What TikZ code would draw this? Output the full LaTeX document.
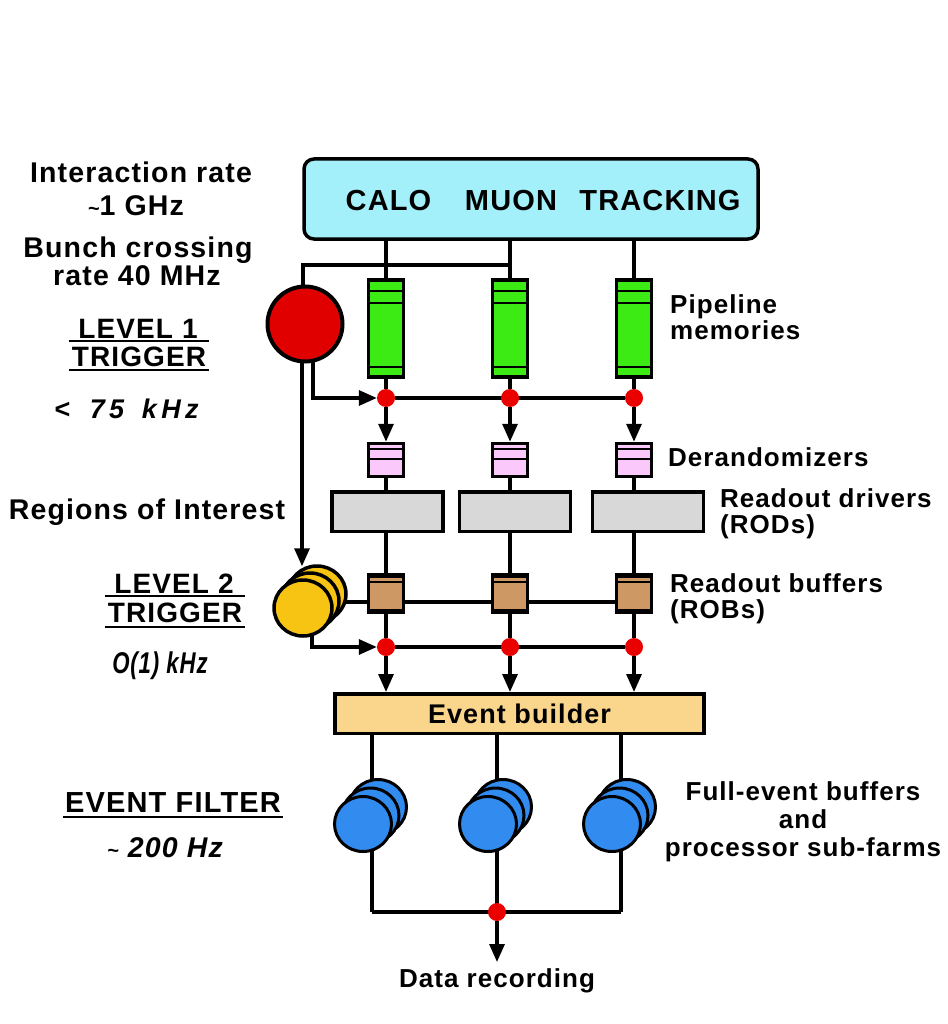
\documentclass[tikz,border=0pt]{standalone}
\usepackage{fontspec}
\setmainfont{Liberation Sans}[LetterSpace=4]
\newfontfamily\widefont{Liberation Sans}[LetterSpace=16]
\usetikzlibrary{arrows.meta,calc,shapes.geometric}
\pgfdeclarelayer{bg}
\pgfdeclarelayer{paper}
\pgfsetlayers{paper,bg,main}
\definecolor{detcyan}{RGB}{164,240,250}
\definecolor{pipegreen}{RGB}{60,235,20}
\definecolor{derpink}{RGB}{250,200,250}
\definecolor{rodgrey}{RGB}{216,216,216}
\definecolor{robtan}{RGB}{205,152,100}
\definecolor{ltyellow}{RGB}{248,196,20}
\definecolor{ebyellow}{RGB}{250,214,140}
\definecolor{farmblue}{RGB}{50,140,240}
\definecolor{dotred}{RGB}{235,0,0}
\definecolor{lonered}{RGB}{225,0,0}
\tikzset{
 ln/.style={line width=3.2pt},
 thin ln/.style={line width=2.2pt},
 arr/.style={line width=3.2pt,-{Triangle[length=18pt,width=15pt]}},
 bx/.style={draw,line width=3.5pt,inner sep=0pt},
 rdot/.style={circle,fill=dotred,minimum size=18pt,inner sep=0pt},
 pipebox/.style={bx,fill=pipegreen,minimum width=35pt,minimum height=97pt},
 derbox/.style={bx,fill=derpink,minimum width=35pt,minimum height=33pt},
 rodbox/.style={bx,fill=rodgrey,minimum width=111pt,minimum height=39.5pt},
 robbox/.style={bx,fill=robtan,minimum width=35pt,minimum height=38pt},
 yell/.style={ellipse,draw,line width=3.5pt,fill=ltyellow,minimum width=58pt,minimum height=56pt,inner sep=0pt},
 farm/.style={ellipse,draw,line width=3pt,fill=farmblue,minimum width=57pt,minimum height=55pt,inner sep=0pt},
 lab/.style={inner sep=0pt,anchor=base west,font=\fontsize{26}{30}\selectfont\bfseries},
 labc/.style={inner sep=0pt,anchor=base,font=\fontsize{26}{30}\selectfont\bfseries},
 info/.style={inner sep=0pt,anchor=base,font=\fontsize{28.5}{33}\selectfont\bfseries},
 ttl/.style={inner sep=0pt,anchor=base,font=\fontsize{28}{33}\selectfont\bfseries},
 uline/.style={line width=2pt},
}
\begin{document}
\begin{tikzpicture}[x=1pt,y=-1pt]
\begin{pgfonlayer}{paper}
\fill[white] (0,0) rectangle (947,1024);
\end{pgfonlayer}
\useasboundingbox (0,0) rectangle (947,1024);

% detector box
\node[bx,fill=detcyan,rounded corners=10pt,minimum width=454pt,minimum height=80pt] (det) at (531,199) {};
\node[ttl,font=\fontsize{29}{34}\selectfont\bfseries] (calo) at (388.5,211) {CALO};
\node[ttl,font=\fontsize{29}{34}\selectfont\bfseries] (muon) at (511,211) {MUON};
\node[ttl,font=\fontsize{29}{34}\selectfont\bfseries] (trk) at (660,211) {TRACKING};

% pipelines
\node[pipebox] (pipe1) at (386,328.5) {};
\node[pipebox] (pipe2) at (510,328.5) {};
\node[pipebox] (pipe3) at (634,328.5) {};
% L1 dots
\node[rdot] (da1) at (386,398) {};
\node[rdot] (da2) at (510,398) {};
\node[rdot] (da3) at (634,398) {};
% derandomizers
\node[derbox] (der1) at (386,460) {};
\node[derbox] (der2) at (510,460) {};
\node[derbox] (der3) at (634,460) {};
% RODs
\node[rodbox] (rod1) at (387.5,511.5) {};
\node[rodbox] (rod2) at (515,511.5) {};
\node[rodbox] (rod3) at (648,511.5) {};
% ROBs
\node[robbox] (rob1) at (386,593.5) {};
\node[robbox] (rob2) at (510,593.5) {};
\node[robbox] (rob3) at (634,593.5) {};
% L2 dots
\node[rdot] (db1) at (386,647) {};
\node[rdot] (db2) at (510,647) {};
\node[rdot] (db3) at (634,647) {};
% event builder
\node[bx,fill=ebyellow,minimum width=369pt,minimum height=39.5pt,
      font=\fontsize{27}{32}\selectfont\bfseries] (eb) at (519.5,713.5) {Event builder};

% level 1 trigger
\node[circle,draw,line width=4pt,fill=lonered,minimum size=75pt,inner sep=0pt] (lone) at (305,324) {};
% level 2 trigger stack
\node[yell] (ltwoback) at (317,594) {};
\node[yell] (ltwomid) at (310,601) {};
\node[yell] (ltwo) at (303,608) {};

% farms
\foreach \i/\x in {1/363,2/488,3/612}{
  \node[farm] (farm\i c) at (\x+15,807) {};
  \node[farm] (farm\i b) at (\x+7.5,815.5) {};
  \node[farm] (farm\i) at (\x,824) {};
}
\coordinate (c1) at (372,912);
\coordinate (c2) at (497,912);
\coordinate (c3) at (621,912);
\node[rdot] (dc) at (c2) {};
\coordinate (rec) at (497,962);

% stripes in boxes
\foreach \i in {1,2,3}{
  \draw[thin ln] ($(pipe\i.north west)+(0,12.5)$) -- ($(pipe\i.north east)+(0,12.5)$);
  \draw[thin ln] ($(pipe\i.north west)+(0,24.5)$) -- ($(pipe\i.north east)+(0,24.5)$);
  \draw[thin ln] ($(pipe\i.south west)+(0,-12)$) -- ($(pipe\i.south east)+(0,-12)$);
  \draw[thin ln] ($(der\i.north west)+(0,7.5)$) -- ($(der\i.north east)+(0,7.5)$);
  \draw[thin ln] ($(der\i.north west)+(0,17.5)$) -- ($(der\i.north east)+(0,17.5)$);
  \draw[line width=1.6pt] ($(rob\i.north west)+(0,4.5)$) -- ($(rob\i.north east)+(0,4.5)$);
  \draw[line width=1.6pt] ($(rob\i.north west)+(0,9.5)$) -- ($(rob\i.north east)+(0,9.5)$);
  \draw[line width=1.8pt] ($(rob\i.south west)+(0,-4.5)$) -- ($(rob\i.south east)+(0,-4.5)$);
}

% connectors (behind)
\coordinate (feed) at (0,265);
\coordinate (robline) at (0,602);
\begin{pgfonlayer}{bg}
  \foreach \i in {1,2,3}{
    \draw[ln] (det.south -| pipe\i) -- (pipe\i.north);
    \draw[ln] (pipe\i.south) -- (da\i);
    \draw[arr] (da\i) -- (der\i.north);
    \draw[ln] (der\i.south) -- (der\i.south |- rod\i.north);
    \draw[ln] (rod\i.south -| rob\i) -- (rob\i.north);
    \draw[ln] (rob\i.south) -- (db\i);
    \draw[arr] (db\i) -- (eb.north -| db\i);
    \draw[ln] (eb.south -| c\i) -- (c\i);
  }
  \draw[ln] (pipe2 |- feed) -| ($(lone.north)+(-2,3)$);
  \draw[arr] ($(lone.south)+(8,-4)$) |- (da1);
  \draw[ln] (da1) -- (da3);
  \draw[arr] ($(lone.south)+(-3,-4)$) -- ($(ltwoback.north)+(-15,2)$);
  \draw[ln] (ltwomid |- robline) -- (rob3 |- robline);
  \draw[arr] ($(ltwo.south)+(9,-4)$) |- (db1);
  \draw[ln] (db1) -- (db3);
  \draw[ln] (c1) -- (c3);
\end{pgfonlayer}
\draw[arr] (dc) -- (rec);

% left-hand texts
\node[info] (ir1) at (141,183) {Interaction rate};
\node[info] (ir2) at (136,215) {{\fontsize{20}{20}\selectfont\textasciitilde}1 GHz};
\node[info] (bc1) at (138,257) {Bunch crossing};
\node[info] (bc2) at (137,285) {rate 40 MHz};
\node[ttl] (lvonea) at (138,338) {LEVEL 1};
\node[ttl] (lvoneb) at (139,366) {TRIGGER};
\draw[uline] ($(lvonea.south -| lvoneb.west)+(-3,3)$) -- ($(lvonea.south -| lvoneb.east)+(3,3)$);
\draw[uline] ($(lvoneb.south west)+(-3,4)$) -- ($(lvoneb.south east)+(3,4)$);
\node[inner sep=0pt,anchor=base west,font=\widefont\fontsize{27}{32}\selectfont\bfseries\itshape] (rone) at (54,418) {<\hspace{8pt} 75\hspace{6pt} kHz};
\node[info] (roi) at (147,519) {Regions of Interest};
\node[ttl] (lvtwoa) at (174,593) {LEVEL 2};
\node[ttl] (lvtwob) at (175,622) {TRIGGER};
\draw[uline] ($(lvtwoa.south -| lvtwob.west)+(-3,3)$) -- ($(lvtwoa.south -| lvtwob.east)+(3,3)$);
\draw[uline] ($(lvtwob.south west)+(-3,5)$) -- ($(lvtwob.south east)+(3,5)$);
\node[info] (rtwo) at (160,673) {\scalebox{0.74}[1]{\fontsize{30}{34}\selectfont\itshape O(1) kHz}};
\node[ttl,font=\fontsize{29}{34}\selectfont\bfseries] (ef) at (173,812) {EVENT FILTER};
\draw[uline] ($(ef.south west)+(-2,5)$) -- ($(ef.south east)+(2,5)$);
\node[info] (rthree) at (165,857) {\itshape{\fontsize{20}{20}\selectfont\textasciitilde} 200 Hz};

% right-hand labels
\node[lab] (pmone) at (670,313) {Pipeline};
\node[lab] (pmtwo) at (670,339) {memories};
\node[lab] (derl) at (668,466) {Derandomizers};
\node[lab] (rodla) at (720,507) {Readout drivers};
\node[lab] (rodlb) at (720,533) {(RODs)};
\node[lab] (robla) at (670,592) {Readout buffers};
\node[lab] (roblb) at (670,618) {(ROBs)};
\node[labc] (fea) at (803,800) {Full-event buffers};
\node[labc] (feb) at (803,828) {and};
\node[labc] (fec) at (803,856) {processor sub-farms};
\node[labc] (drec) at (497,987) {Data recording};
\end{tikzpicture}
\end{document}
